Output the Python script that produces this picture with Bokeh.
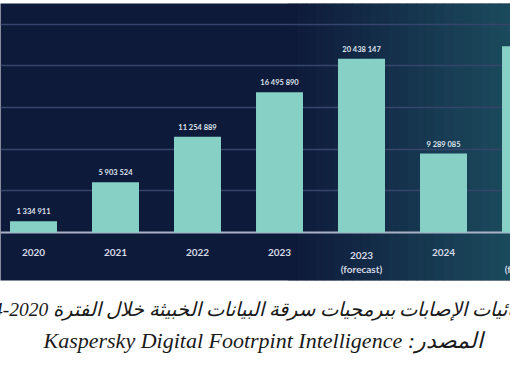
import numpy as np
from bokeh.plotting import figure
from bokeh.models import ColumnDataSource, Range1d, FixedTicker, Span, BoxAnnotation, Title
from bokeh.core.properties import value
from bokeh.embed import file_html
from bokeh.resources import INLINE

# ---- data ----
years = ["2020", "2021", "2022", "2023", "2023\n(forecast)", "2024", "2025\n(forecast)"]
infections = [1334911, 5903524, 11254889, 16495890, 20438147, 9289085, 21900000]
value_labels = ["1 334 911", "5 903 524", "11 254 889", "16 495 890", "20 438 147", "9 289 085", ""]
grid_values = [4.9e6, 9.8e6, 14.7e6, 19.6e6, 24.5e6]
caption_line1 = "\u202bإحصائيات الإصابات ببرمجيات سرقة البيانات الخبيثة خلال الفترة 2020\u200f-\u200f2024\u202c"
caption_line2 = "\u202bالمصدر: Kaspersky Digital Footrpint Intelligence\u202c"

NAVY = "#0e1a3a"
BAR = "#86d0c6"

src = ColumnDataSource(dict(
    x=list(range(len(years))),
    year=years,
    v=infections,
    lab=value_labels,
))

p = figure(width=510, height=369, output_backend="svg", toolbar_location=None,
           x_range=Range1d(-0.4024, 5.817), y_range=Range1d(-5.647e6, 26.94e6),
           min_border_left=0, min_border_right=0, min_border_top=3, min_border_bottom=89)
p.background_fill_color = NAVY
p.border_fill_color = "white"
p.outline_line_color = None
p.xaxis.visible = False
p.yaxis.visible = False
p.xgrid.visible = False
p.ygrid.ticker = FixedTicker(ticks=grid_values)
p.ygrid.grid_line_color = "#36466a"
p.ygrid.grid_line_width = 1.6

# gradient toward the right side
edges = np.linspace(3.1, 5.9, 26)
c0 = np.array([0x0e, 0x1a, 0x3a], float)
c1 = np.array([0x1c, 0x4b, 0x5e], float)
for k in range(len(edges) - 1):
    t = k / (len(edges) - 2)
    c = (c0 + (c1 - c0) * t).round().astype(int)
    col = "#%02x%02x%02x" % tuple(c)
    p.add_layout(BoxAnnotation(left=edges[k], right=edges[k + 1] + 0.01 if k < len(edges) - 2 else None,
                               fill_color=col, fill_alpha=1.0, line_color=None, level="image"))

p.add_layout(Span(location=0, dimension="width", line_color="#a9b2c6", line_width=2, level="underlay"))

p.vbar(x="x", top="v", bottom=0, width=0.573, source=src, fill_color=BAR, line_color=None)

p.text(x="x", y="v", text="lab", source=src, text_align="center", text_baseline="bottom",
       y_offset=-5, text_color="#dfe4ee", text_font=value("Lato"), text_font_size="7.5px",
       text_font_style="bold")

p.text(x="x", y=0, text="year", source=src, text_align="center", text_baseline="top",
       y_offset=17, text_color="#d5dae5", text_font=value("Lato"), text_font_size="10px",
       text_font_style="bold", text_line_height=1.15)

t1 = Title(text=caption_line1, align="center", text_font="Liberation Serif",
           text_font_style="italic", text_font_size="19.5px", text_color="#1a1a1a", standoff=33)
t2 = Title(text=caption_line2, align="left", text_font="Liberation Serif",
           text_font_style="italic", text_font_size="22px", text_color="#1a1a1a", standoff=-22,
           offset=43)
p.add_layout(t1, "below")
p.add_layout(t2, "below")

open("out.html", "w").write(file_html(p, INLINE))
